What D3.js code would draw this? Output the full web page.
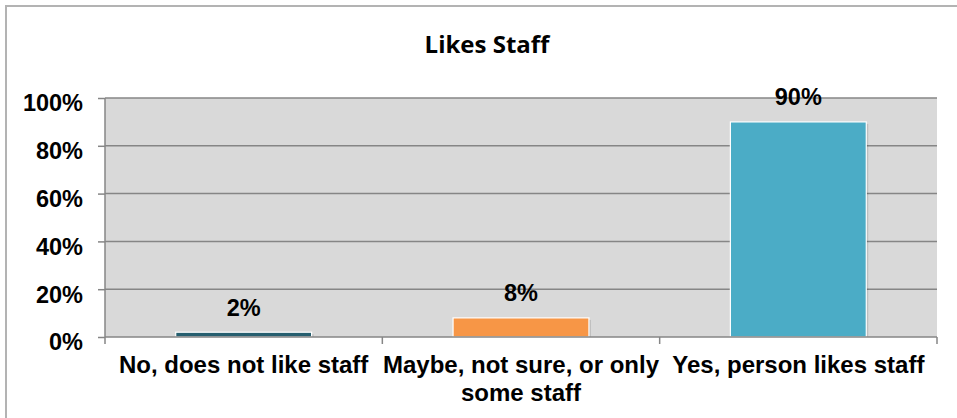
<!DOCTYPE html>
<html><head><meta charset="utf-8">
<script src="https://cdn.jsdelivr.net/npm/d3@7"></script>
<style>html,body{margin:0;padding:0;background:#fff;}svg{display:block;}</style>
</head><body>
<svg id="chart" width="957" height="418"></svg>
<script>
const title = "Likes Staff";
const categories = ["No, does not like staff", "Maybe, not sure, or only some staff", "Yes, person likes staff"];
const categoryLines = [["No, does not like staff"], ["Maybe, not sure, or only", "some staff"], ["Yes, person likes staff"]];
const values = [2, 8, 90];
const valueLabels = ["2%", "8%", "90%"];
const yTicks = [0, 20, 40, 60, 80, 100];
const colors = ["#265F6F", "#F79646", "#4BACC6"];

const svg = d3.select("#chart");
const W = 957, H = 418;
const m = {left: 105, right: 20, top: 98, bottom: 81};
const x = d3.scaleBand().domain(categories).range([m.left, W - m.right]).paddingInner(0.51).paddingOuter(0.255);
const xb = d3.scaleBand().domain(categories).range([m.left, W - m.right]);
const y = d3.scaleLinear().domain([0, 100]).range([H - m.bottom, m.top]);
const font = "'Liberation Sans', Arial, sans-serif";

// outer border (top & left visible)
svg.append("rect").attr("x", 6).attr("y", 6).attr("width", W + 10).attr("height", H + 10)
  .attr("fill", "#fff").attr("stroke", "#B3B3B3").attr("stroke-width", 2);

// plot background
svg.append("rect").attr("x", m.left).attr("y", m.top).attr("width", W - m.right - m.left)
  .attr("height", y(0) - m.top).attr("fill", "#D9D9D9");

// gridlines + y axis
const yAxis = d3.axisLeft(y).tickValues(yTicks).tickSize(7).tickFormat(d => d + "%");
const gy = svg.append("g").attr("transform", `translate(${m.left},0)`).call(yAxis);
gy.select(".domain").attr("stroke", "#868686").attr("stroke-width", 1.5).attr("d", `M0,${y(0)}V${m.top}`);
gy.selectAll(".tick line").attr("stroke", "#868686").attr("stroke-width", 1.5);
gy.selectAll(".tick text").attr("x", -22).attr("dy", "0.55em")
  .style("font-family", font).style("font-weight", "bold").style("font-size", "23.5px").attr("fill", "#000");
svg.append("g").selectAll("line").data(yTicks.filter(d => d > 0)).join("line")
  .attr("x1", m.left).attr("x2", W - m.right).attr("y1", d => y(d)).attr("y2", d => y(d))
  .attr("stroke", "#868686").attr("stroke-width", 1.5);

// bars (shadow + bar)
const data = categories.map((c, i) => ({c, v: values[i], label: valueLabels[i], color: colors[i]}));
svg.append("g").selectAll("rect").data(data).join("rect")
  .attr("x", d => x(d.c) + 2).attr("y", d => y(d.v) + 2).attr("width", x.bandwidth())
  .attr("height", d => y(0) - y(d.v) - 2).attr("fill", "rgba(0,0,0,0.12)");
svg.append("g").selectAll("rect").data(data).join("rect")
  .attr("x", d => x(d.c)).attr("y", d => y(d.v)).attr("width", x.bandwidth())
  .attr("height", d => y(0) - y(d.v)).attr("fill", d => d.color)
  .attr("stroke", "#fff").attr("stroke-width", 1.2);

// value labels
svg.append("g").selectAll("text").data(data).join("text")
  .attr("x", d => x(d.c) + x.bandwidth() / 2).attr("y", d => y(d.v) - 16.5)
  .attr("text-anchor", "middle").style("font-family", font).style("font-weight", "bold")
  .style("font-size", "23.5px").text(d => d.label);

// x axis
const xAxis = d3.axisBottom(xb).tickSize(0).tickFormat("");
const gx = svg.append("g").attr("transform", `translate(0,${y(0)})`).call(xAxis);
gx.select(".domain").attr("stroke", "#868686").attr("stroke-width", 1.5).attr("d", `M${m.left},0H${W - m.right}`);
const bounds = [m.left].concat(categories.map(c => xb(c) + xb.bandwidth()));
svg.append("g").selectAll("line").data(bounds).join("line")
  .attr("x1", d => d).attr("x2", d => d).attr("y1", y(0)).attr("y2", y(0) + 7)
  .attr("stroke", "#868686").attr("stroke-width", 1.5);

// x labels
const xl = svg.append("g").selectAll("text").data(categories).join("text")
  .attr("x", d => xb(d) + xb.bandwidth() / 2).attr("y", 373)
  .attr("text-anchor", "middle").style("font-family", font).style("font-weight", "bold").style("font-size", "24px");
xl.each(function(d, i) {
  const t = d3.select(this);
  categoryLines[i].forEach((ln, j) => {
    t.append("tspan").attr("x", xb(d) + xb.bandwidth() / 2).attr("dy", j === 0 ? 0 : 28).text(ln);
  });
});

// title
svg.append("text").attr("x", 487).attr("y", 53).attr("text-anchor", "middle")
  .style("font-family", "'Open Sans', sans-serif").style("font-weight", "bold").style("font-size", "24px")
  .text(title);
</script>
</body></html>
